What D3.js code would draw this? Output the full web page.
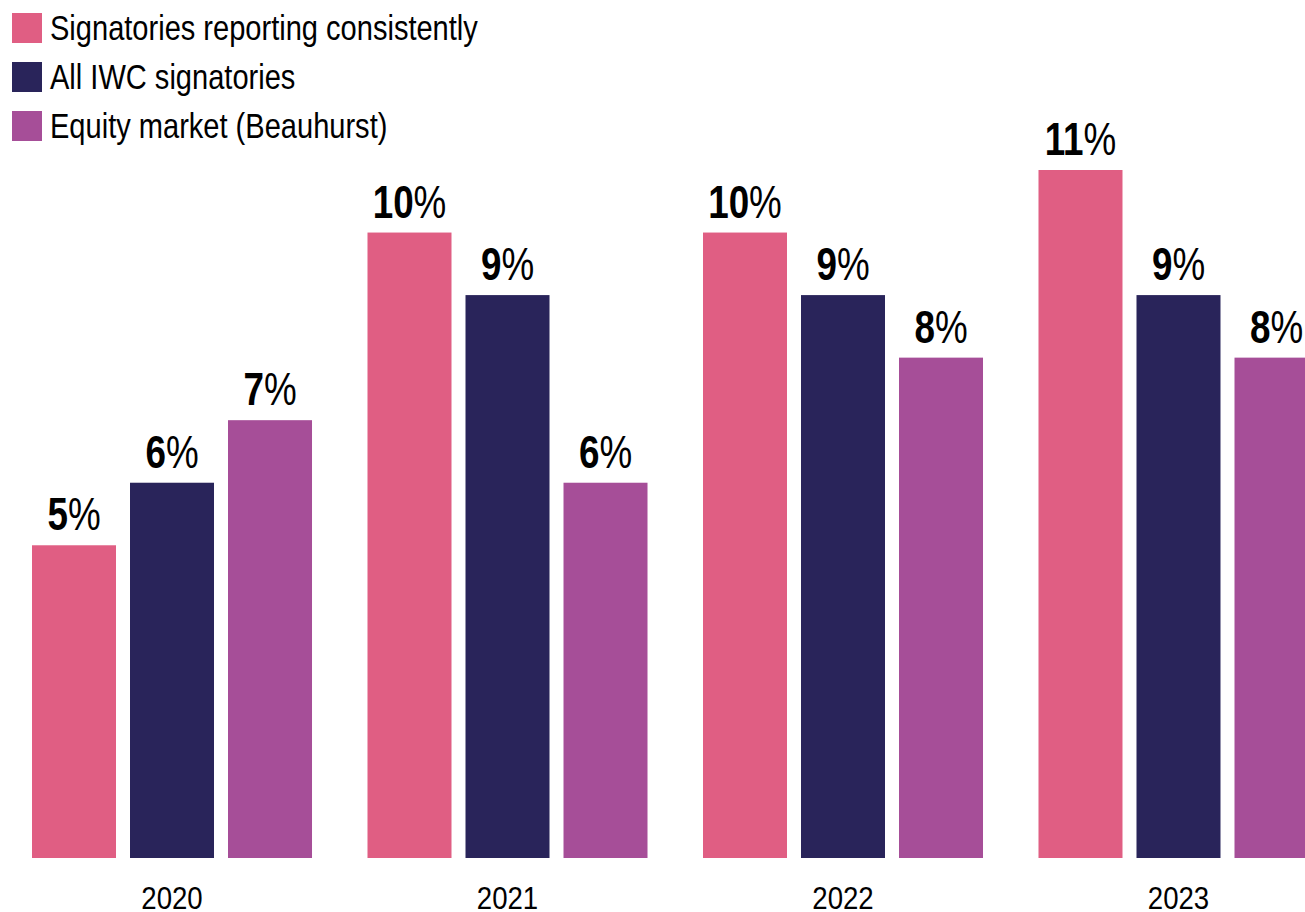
<!DOCTYPE html>
<html>
<head>
<meta charset="utf-8">
<script src="https://cdn.jsdelivr.net/npm/d3@7"></script>
<style>
  html, body { margin: 0; padding: 0; background: #ffffff; }
  svg { display: block; }
  text { font-family: 'Liberation Sans', Arial, sans-serif; fill: #000; }
</style>
</head>
<body>
<svg id="chart" width="1305" height="912"></svg>
<script>
// Data
const years = ["2020", "2021", "2022", "2023"];
const seriesNames = ["Signatories reporting consistently", "All IWC signatories", "Equity market (Beauhurst)"];
const consistentValues = [5, 10, 10, 11];
const allSignatoriesValues = [6, 9, 9, 9];
const equityMarketValues = [7, 6, 8, 8];
const seriesColors = ["#e05e83", "#29245a", "#a64e98"];

const seriesValues = [consistentValues, allSignatoriesValues, equityMarketValues];
const rows = [];
years.forEach((yr, i) => {
  seriesNames.forEach((s, j) => rows.push({ year: yr, series: s, value: seriesValues[j][i], color: seriesColors[j] }));
});

// Horizontal squeeze gives the regular sans a condensed look
const narrowLegend = 0.83;
const narrowAxis = 0.89;
const narrowLabel = 0.8;

const svg = d3.select("#chart");
const baseY = 858;

const x0 = d3.scaleBand().domain(years).range([32, 1318.5]).paddingInner(0.1654).paddingOuter(0);
const x1 = d3.scaleBand().domain(seriesNames).range([0, x0.bandwidth()]).paddingInner(14 / 98).paddingOuter(0);
const y = d3.scaleLinear().domain([0, 11]).range([baseY, 170]);

// Bars
const g = svg.append("g");
g.selectAll("rect.bar")
  .data(rows)
  .join("rect")
  .attr("class", "bar")
  .attr("x", d => x0(d.year) + x1(d.series))
  .attr("y", d => y(d.value))
  .attr("width", x1.bandwidth())
  .attr("height", d => baseY - y(d.value))
  .attr("fill", d => d.color);

// Value labels: bold number, regular percent sign
const labels = g.selectAll("text.val")
  .data(rows)
  .join("text")
  .attr("class", "val")
  .attr("transform", d => `translate(${x0(d.year) + x1(d.series) + x1.bandwidth() / 2},${y(d.value) - 15}) scale(${narrowLabel},1)`)
  .attr("text-anchor", "middle")
  .style("font-size", "46px");
labels.append("tspan").style("font-weight", "bold").text(d => d.value);
labels.append("tspan").style("font-weight", "normal").text("%");

// Year axis labels
const xAxis = d3.axisBottom(x0).tickSize(0).tickPadding(0);
const axisG = svg.append("g").attr("transform", `translate(0,${baseY})`).call(xAxis);
axisG.select(".domain").remove();
axisG.selectAll("text")
  .attr("y", 0)
  .attr("dy", 0)
  .attr("transform", `translate(0,51) scale(${narrowAxis},1)`)
  .style("font-size", "31px")
  .style("font-family", "'Liberation Sans', Arial, sans-serif")
  .style("fill", "#000");

// Legend
const legend = svg.append("g");
const legendItems = legend.selectAll("g")
  .data(seriesNames)
  .join("g")
  .attr("transform", (d, i) => `translate(12,${13 + i * 49})`);
legendItems.append("rect")
  .attr("width", 30)
  .attr("height", 30)
  .attr("fill", (d, i) => seriesColors[i]);
legendItems.append("text")
  .attr("transform", `translate(38,27) scale(${narrowLegend},1)`)
  .style("font-size", "35px")
  .text(d => d);
</script>
</body>
</html>
